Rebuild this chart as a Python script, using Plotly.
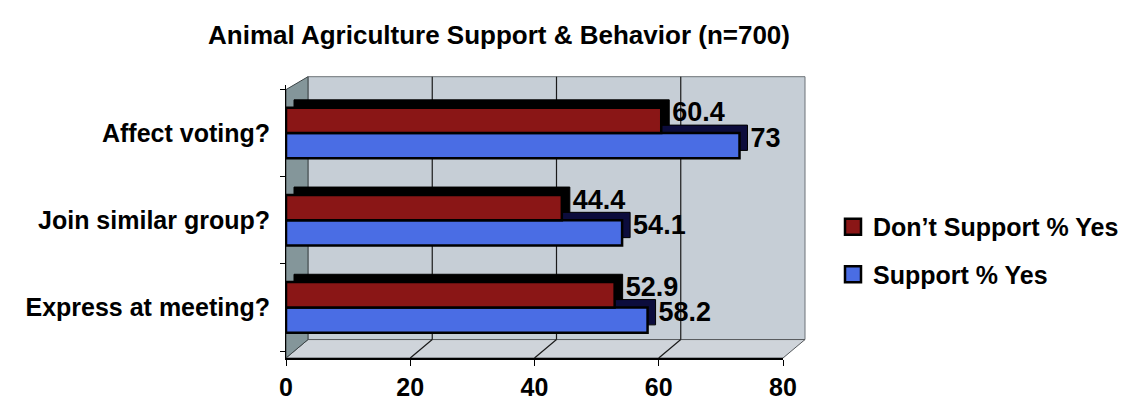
import plotly.graph_objects as go

# ---- data ----
categories = ["Express at meeting?", "Join similar group?", "Affect voting?"]
support_yes = [58.2, 54.1, 73]
dont_support_yes = [52.9, 44.4, 60.4]
support_labels = ["58.2", "54.1", "73"]
dont_support_labels = ["52.9", "44.4", "60.4"]
x_ticks = [0, 20, 40, 60, 80]
series_names = ["Don\u2019t Support % Yes", "Support % Yes"]

# ---- style ----
FONT = "Liberation Sans, Arial, sans-serif"
RED = "#8a1616"
BLUE = "#4a6de4"
RED_DEPTH = "#000000"
BLUE_DEPTH = "#0c0c3c"
WALL = "#c6ced6"
FLOOR = "#cfd4da"
SIDE = "#84969a"
X_MAX = 80

# plot area in pixels: x 278..775, y 77..373
PL, PR, PT, PB = 278, 775, 77, 373
W, H = PR - PL, PB - PT
dx = 22 / W            # depth offset (paper units)
dy = 20 / H
top_back = (PB - 68) / H
top_front = (PB - 82) / H
depth_x = 8 / (W / X_MAX)   # depth of bars in data units
bw = 0.29                   # bar face thickness (category units)
bdy = 0.09                  # bar depth offset (category units)

fig = go.Figure()

# depth (extrusion) bars, drawn first
fig.add_trace(go.Bar(y=categories, x=support_yes, base=depth_x, orientation="h",
                     width=bw, offset=-bw + bdy,
                     marker=dict(color=BLUE_DEPTH, line=dict(color="black", width=1)),
                     text=[f"<b>{t}</b>" for t in support_labels], textposition="outside",
                     textfont=dict(family=FONT, size=27, color="black"),
                     constraintext="none", cliponaxis=False, showlegend=False,
                     hoverinfo="skip"))
fig.add_trace(go.Bar(y=categories, x=dont_support_yes, base=depth_x, orientation="h",
                     width=bw, offset=bdy,
                     marker=dict(color=RED_DEPTH, line=dict(color="black", width=1)),
                     text=[f"<b>{t}</b>" for t in dont_support_labels], textposition="outside",
                     textfont=dict(family=FONT, size=27, color="black"),
                     constraintext="none", cliponaxis=False, showlegend=False,
                     hoverinfo="skip"))
# front faces
fig.add_trace(go.Bar(y=categories, x=support_yes, orientation="h",
                     width=bw, offset=-bw,
                     marker=dict(color=BLUE, line=dict(color="black", width=2.5)),
                     showlegend=False, name=series_names[1], cliponaxis=False))
fig.add_trace(go.Bar(y=categories, x=dont_support_yes, orientation="h",
                     width=bw, offset=0,
                     marker=dict(color=RED, line=dict(color="black", width=2.5)),
                     showlegend=False, name=series_names[0], cliponaxis=False))

# legend entries
fig.add_trace(go.Scatter(x=[None], y=[None], mode="markers",
                         name=f"<b>{series_names[0]}</b>", legendgroup="a",
                         marker=dict(symbol="square", size=16, color=RED,
                                     line=dict(color="black", width=2.5))))
fig.add_trace(go.Scatter(x=[None], y=[None], mode="markers",
                         name=f"<b>{series_names[1]}</b>", legendgroup="b",
                         marker=dict(symbol="square", size=16, color=BLUE,
                                     line=dict(color="black", width=2.5))))

# ---- 3D frame (decoration) ----
shapes = []
shapes.append(dict(type="rect", xref="paper", yref="paper", x0=dx, x1=1 + dx,
                   y0=dy, y1=top_back, fillcolor=WALL,
                   line=dict(color="#6d7378", width=1), layer="below"))
shapes.append(dict(type="path", xref="paper", yref="paper",
                   path=f"M0,0 L1,0 L{1+dx},{dy} L{dx},{dy} Z",
                   fillcolor=FLOOR, line=dict(color="#55595d", width=1), layer="below"))
shapes.append(dict(type="path", xref="paper", yref="paper",
                   path=f"M0,0 L0,{top_front} L{dx},{top_back} L{dx},{dy} Z",
                   fillcolor=SIDE, line=dict(color="#3c4446", width=1), layer="below"))
for v in x_ticks[1:-1]:
    xb = v / X_MAX + dx
    shapes.append(dict(type="line", xref="paper", yref="paper", x0=xb, x1=xb,
                       y0=dy, y1=top_back, line=dict(color="#1a1a1a", width=1.2),
                       layer="below"))
    shapes.append(dict(type="line", xref="paper", yref="paper", x0=v / X_MAX, x1=xb,
                       y0=0, y1=dy, line=dict(color="#1a1a1a", width=1.2),
                       layer="below"))

fig.update_layout(
    width=1135, height=405,
    margin=dict(l=PL, r=1135 - PR, t=PT, b=405 - PB, pad=0),
    paper_bgcolor="white",
    plot_bgcolor="rgba(0,0,0,0)",
    barmode="overlay",
    shapes=shapes,
    title=dict(text="<b>Animal Agriculture Support & Behavior (n=700)</b>",
               x=491 / 1135, xref="container", xanchor="center",
               y=1 - 27 / 405, yref="container", yanchor="middle",
               font=dict(family=FONT, size=26, color="black")),
    xaxis=dict(range=[0, X_MAX], tickvals=x_ticks,
               ticktext=[f"<b>{t}</b>" for t in x_ticks],
               showgrid=False, zeroline=False, showline=True,
               linecolor="black", linewidth=1.5,
               ticks="outside", ticklen=6, tickcolor="black",
               tickfont=dict(family=FONT, size=25, color="black")),
    yaxis=dict(type="category", categoryarray=categories, categoryorder="array",
               range=[-0.58, 2.55],
               tickvals=categories, ticktext=[f"<b>{c}</b>" for c in categories],
               showgrid=False, zeroline=False, showline=True,
               linecolor="black", linewidth=1,
               ticks="outside", tickson="boundaries", ticklen=5, tickcolor="black",
               ticklabelstandoff=10,
               tickfont=dict(family=FONT, size=25, color="black")),
    legend=dict(x=(825 - PL) / W, xanchor="left", y=(PB - 206) / H, yanchor="top",
                traceorder="grouped", tracegroupgap=12,
                font=dict(family=FONT, size=25, color="black"),
                bgcolor="rgba(0,0,0,0)", itemwidth=30),
    showlegend=True,
)

fig.write_html("out.html")
